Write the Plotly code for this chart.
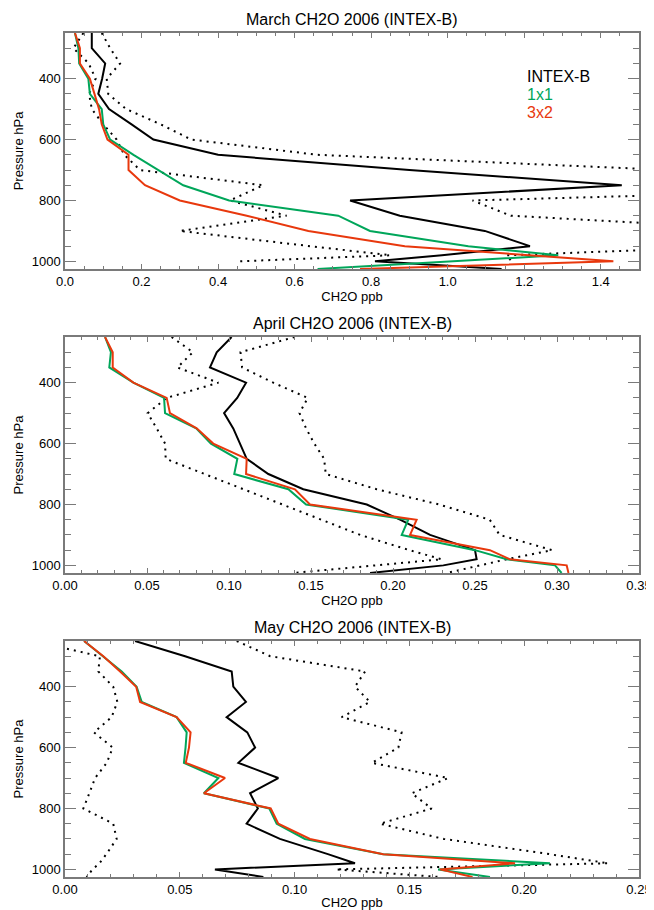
import plotly.graph_objects as go

# ---------------- data (CH2O ppb vs pressure hPa) ----------------
# March
mar_obs_p = [250, 300, 350, 400, 450, 500, 550, 600, 650, 700, 750, 800, 850, 900, 950, 980, 1000, 1025]
mar_obs_mean = [0.070, 0.070, 0.105, 0.097, 0.087, 0.115, 0.174, 0.231, 0.400, 0.900, 1.455, 0.745,
                0.875, 1.097, 1.215, 0.985, 0.810, 1.141]
mar_sd_p = [250, 300, 350, 400, 450, 500, 550, 600, 650, 700, 750, 800, 850, 900, 950, 980, 1000]
mar_obs_lo = [0.048, 0.022, 0.062, 0.080, 0.063, 0.070, 0.100, 0.135, 0.155, 0.196, 0.518, 0.431,
              0.579, 0.300, 0.640, 0.850, 0.453]
mar_obs_hi = [0.096, 0.118, 0.144, 0.109, 0.113, 0.160, 0.250, 0.330, 0.660, 1.600, 2.500, 1.065,
              1.165, 1.890, 1.790, 1.154, 1.167]
mar_1x1_p = [250, 300, 350, 400, 450, 500, 550, 600, 650, 700, 750, 800, 850, 900, 950, 980, 1025]
mar_1x1 = [0.026, 0.035, 0.037, 0.061, 0.065, 0.096, 0.100, 0.118, 0.179, 0.244, 0.309, 0.429,
           0.714, 0.797, 1.054, 1.289, 0.660]
mar_3x2_p = [250, 300, 350, 400, 450, 500, 550, 600, 650, 700, 750, 800, 850, 900, 950, 1000, 1025]
mar_3x2 = [0.026, 0.039, 0.039, 0.065, 0.077, 0.089, 0.096, 0.111, 0.166, 0.166, 0.209, 0.300,
           0.475, 0.636, 0.888, 1.433, 0.771]

# April
apr_obs_p = [250, 300, 350, 400, 450, 500, 550, 600, 650, 700, 750, 800, 850, 900, 950, 980, 1000, 1025]
apr_obs_mean = [0.1016, 0.0925, 0.0884, 0.1104, 0.1050, 0.0970, 0.1026, 0.1067, 0.1108, 0.1240,
                0.1453, 0.1840, 0.2043, 0.2226, 0.2500, 0.2510, 0.2307, 0.1860]
apr_sd_p = [250, 300, 350, 400, 450, 500, 550, 600, 650, 700, 750, 800, 850, 900, 950, 980, 1025]
apr_obs_lo = [0.065, 0.078, 0.0685, 0.0935, 0.062, 0.0504, 0.0559, 0.061, 0.0614, 0.085, 0.1087,
              0.132, 0.156, 0.180, 0.210, 0.2297, 0.139]
apr_obs_hi = [0.140, 0.107, 0.108, 0.127, 0.148, 0.143, 0.147, 0.152, 0.158, 0.159, 0.190,
              0.228, 0.259, 0.265, 0.297, 0.2693, 0.2327]
apr_mod_p = [250, 300, 350, 400, 450, 500, 550, 600, 650, 700, 750, 800, 850, 900, 950, 980, 1000, 1025]
apr_1x1 = [0.0244, 0.0280, 0.0270, 0.0417, 0.0604, 0.0610, 0.0800, 0.0890, 0.1051, 0.1032, 0.1362,
           0.1470, 0.2093, 0.2053, 0.2500, 0.2693, 0.2988, 0.3028]
apr_3x2 = [0.0244, 0.0291, 0.0291, 0.0417, 0.0620, 0.0640, 0.0803, 0.0904, 0.1108, 0.1104, 0.1402,
           0.1494, 0.2144, 0.2104, 0.2591, 0.2713, 0.3059, 0.3070]

# May
may_obs_p = [250, 300, 350, 400, 450, 500, 550, 600, 650, 700, 750, 800, 850, 900, 950, 980, 1000, 1025]
may_obs_mean = [0.0305, 0.0523, 0.0726, 0.0733, 0.0788, 0.0704, 0.0794, 0.0828, 0.0755, 0.0929,
                0.0806, 0.0840, 0.0791, 0.0936, 0.1145, 0.1263, 0.0653, 0.0864]
may_obs_lo = [-0.014, 0.0152, 0.0145, 0.0210, 0.0228, 0.0203, 0.0126, 0.0208, 0.0182, 0.0131,
              0.0106, 0.0080, 0.0210, 0.0225, 0.0180, 0.0150, 0.0120, 0.0094]
may_obs_hi = [0.0748, 0.0894, 0.1307, 0.1263, 0.1328, 0.1205, 0.1466, 0.1452, 0.1336, 0.1669,
              0.1510, 0.1597, 0.1372, 0.1650, 0.2110, 0.2366, 0.1180, 0.1630]
may_mod_p = [250, 300, 350, 400, 450, 500, 550, 600, 650, 700, 750, 800, 850, 900, 950, 980, 1000, 1025]
may_1x1 = [0.0083, 0.0167, 0.0247, 0.0312, 0.0334, 0.0486, 0.0530, 0.0525, 0.0518, 0.0668, 0.0605,
           0.0890, 0.0922, 0.1045, 0.1386, 0.2112, 0.1625, 0.1851]
may_3x2 = [0.0083, 0.0167, 0.0240, 0.0310, 0.0327, 0.0486, 0.0547, 0.0540, 0.0526, 0.0697, 0.0605,
           0.0896, 0.0929, 0.1067, 0.1386, 0.1960, 0.1633, 0.1775]

titles = ["March CH2O 2006 (INTEX-B)", "April CH2O 2006 (INTEX-B)", "May CH2O 2006 (INTEX-B)"]
x_ranges = [[0, 1.5], [0, 0.35], [0, 0.25]]
x_ticks = [[0.0, 0.2, 0.4, 0.6, 0.8, 1.0, 1.2, 1.4],
           [0.00, 0.05, 0.10, 0.15, 0.20, 0.25, 0.30, 0.35],
           [0.00, 0.05, 0.10, 0.15, 0.20, 0.25]]
x_fmt = [".1f", ".2f", ".2f"]
x_minor = [0.05, 0.01, 0.01]
y_ticks = [400, 600, 800, 1000]
legend_names = ["INTEX-B", "1x1", "3x2"]

BLACK = "#000000"
GREEN = "#00A65A"
RED = "#E8380D"
FRAME = "#7a7a7a"
FONT = "Liberation Sans, Arial, sans-serif"

panels = [
    dict(obs_p=mar_obs_p, mean=mar_obs_mean, sd_p=mar_sd_p, lo=mar_obs_lo, hi=mar_obs_hi,
         g_p=mar_1x1_p, g=mar_1x1, r_p=mar_3x2_p, r=mar_3x2),
    dict(obs_p=apr_obs_p, mean=apr_obs_mean, sd_p=apr_sd_p, lo=apr_obs_lo, hi=apr_obs_hi,
         g_p=apr_mod_p, g=apr_1x1, r_p=apr_mod_p, r=apr_3x2),
    dict(obs_p=may_obs_p, mean=may_obs_mean, sd_p=may_obs_p, lo=may_obs_lo, hi=may_obs_hi,
         g_p=may_mod_p, g=may_1x1, r_p=may_mod_p, r=may_3x2),
]

domains = [[0.7204, 1.0], [0.3602, 0.6398], [0.0, 0.2796]]

fig = go.Figure()
for i, pnl in enumerate(panels):
    sfx = "" if i == 0 else str(i + 1)
    xa, ya = "x" + sfx, "y" + sfx
    dot = dict(color=BLACK, width=2, dash="2px,5px")
    fig.add_trace(go.Scatter(x=pnl["lo"], y=pnl["sd_p"], mode="lines", line=dot,
                             xaxis=xa, yaxis=ya, showlegend=False, name="INTEX-B -1sd"))
    fig.add_trace(go.Scatter(x=pnl["hi"], y=pnl["sd_p"], mode="lines", line=dot,
                             xaxis=xa, yaxis=ya, showlegend=False, name="INTEX-B +1sd"))
    fig.add_trace(go.Scatter(x=pnl["mean"], y=pnl["obs_p"], mode="lines",
                             line=dict(color=BLACK, width=2),
                             xaxis=xa, yaxis=ya, showlegend=False, name="INTEX-B"))
    fig.add_trace(go.Scatter(x=pnl["g"], y=pnl["g_p"], mode="lines",
                             line=dict(color=GREEN, width=2),
                             xaxis=xa, yaxis=ya, showlegend=False, name="1x1"))
    fig.add_trace(go.Scatter(x=pnl["r"], y=pnl["r_p"], mode="lines",
                             line=dict(color=RED, width=2),
                             xaxis=xa, yaxis=ya, showlegend=False, name="3x2"))

    xkey = "xaxis" + sfx
    ykey = "yaxis" + sfx
    fig.layout[xkey] = dict(
        domain=[0, 1], anchor=ya, range=x_ranges[i], tickmode="array", tickvals=x_ticks[i],
        tickformat=x_fmt[i], ticks="inside", ticklen=5, tickwidth=1, tickcolor=FRAME,
        minor=dict(ticks="inside", ticklen=3, dtick=x_minor[i], tick0=0, tickcolor=FRAME, showgrid=False),
        showline=True, linecolor=FRAME, linewidth=1.5, mirror="ticks", showgrid=False, zeroline=False,
        automargin=False,
        tickfont=dict(family=FONT, size=13, color="black"),
        title=dict(text="CH2O ppb", font=dict(family=FONT, size=13, color="black"), standoff=2),
    )
    fig.layout[ykey] = dict(
        domain=domains[i], anchor=xa, range=[1025, 250], tickmode="array", tickvals=y_ticks,
        ticks="inside", ticklen=11, tickwidth=1, tickcolor=FRAME,
        minor=dict(ticks="inside", ticklen=6, dtick=50, tick0=0, tickcolor=FRAME, showgrid=False),
        showline=True, linecolor=FRAME, linewidth=1.5, mirror="ticks", showgrid=False, zeroline=False,
        automargin=False,
        tickfont=dict(family=FONT, size=13, color="black"),
        title=dict(text="Pressure hPa", font=dict(family=FONT, size=13, color="black"), standoff=5),
    )
    fig.add_annotation(text=titles[i], xref="paper", yref="paper", x=0.5, y=domains[i][1],
                       xanchor="center", yanchor="bottom", yshift=3, showarrow=False,
                       font=dict(family=FONT, size=16, color="black"))

# legend text (panel 1)
for name, col, p in zip(legend_names, [BLACK, GREEN, RED], [394, 453, 512]):
    fig.add_annotation(text=name, xref="x", yref="y", x=1.202, y=p, xanchor="left",
                       yanchor="middle", showarrow=False,
                       font=dict(family=FONT, size=16, color=col))

# page body has an 8px margin: the figure is sized/offset so the plot lands where the reference has it
fig.update_layout(
    width=646, height=902,
    margin=dict(l=57, r=15, t=25, b=33),
    paper_bgcolor="white", plot_bgcolor="white",
    showlegend=False,
    font=dict(family=FONT, color="black"),
)

fig.write_html("out.html")
